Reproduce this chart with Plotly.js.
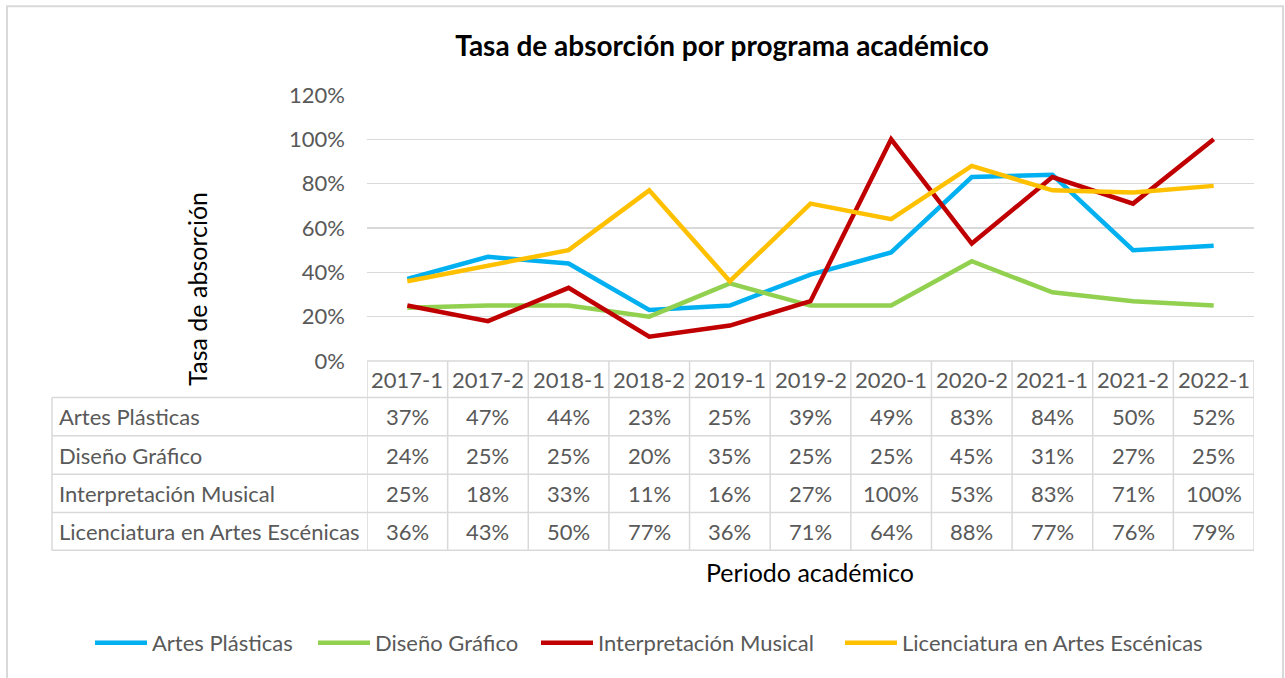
<!DOCTYPE html>
<html>
<head>
<meta charset="utf-8">
<script src="https://cdn.plot.ly/plotly-3.0.1.min.js"></script>
<style>html,body{margin:0;padding:0;background:#fff;}#chart{width:1285px;height:678px;}</style>
</head>
<body>
<div id="chart"></div>
<script>
const periods = ['2017-1','2017-2','2018-1','2018-2','2019-1','2019-2','2020-1','2020-2','2021-1','2021-2','2022-1'];
const seriesNames = ['Artes Plásticas','Diseño Gráfico','Interpretación Musical','Licenciatura en Artes Escénicas'];
const artesPlasticas = [0.37,0.47,0.44,0.23,0.25,0.39,0.49,0.83,0.84,0.50,0.52];
const disenoGrafico = [0.24,0.25,0.25,0.20,0.35,0.25,0.25,0.45,0.31,0.27,0.25];
const interpretacionMusical = [0.25,0.18,0.33,0.11,0.16,0.27,1.00,0.53,0.83,0.71,1.00];
const licenciaturaEscenicas = [0.36,0.43,0.50,0.77,0.36,0.71,0.64,0.88,0.77,0.76,0.79];
const seriesColors = ['#00B0F0','#92D050','#C00000','#FFC000'];

const allSeries = [artesPlasticas, disenoGrafico, interpretacionMusical, licenciaturaEscenicas];
const FONT = 'Lato, "Open Sans", sans-serif';
const TXT = '#595959';
const GRID = '#d9d9d9';

const L = 367, R = 1254, T = 95, B = 361.5;
const W = R - L, H = B - T;
const px = v => (v - L) / W;
const py = v => (B - v) / H;
const legendLeft = [90, 313, 536, 840];

const legendKey = i => i === 0 ? 'legend' : 'legend' + (i + 1);

const traces = allSeries.map((vals, i) => ({
  type: 'scatter', mode: 'lines', name: seriesNames[i],
  x: periods, y: vals,
  line: {color: seriesColors[i], width: 4.5},
  legend: legendKey(i),
  hoverinfo: 'skip'
}));

const rowLines = [398, 436.5, 475, 513.3, 551];
const rowCenters = [417, 455.7, 494, 532];
const tableLeft = 52;

const shapes = [];
const lineStyle = {color: GRID, width: 1.5};
shapes.push({type:'line', xref:'paper', yref:'paper', x0:px(L), x1:px(R), y0:0, y1:0, line:lineStyle});
rowLines.forEach(r => shapes.push({type:'line', xref:'paper', yref:'paper', x0:px(tableLeft), x1:px(R), y0:py(r), y1:py(r), line:lineStyle}));
for (let k = 0; k <= periods.length; k++) {
  shapes.push({type:'line', xref:'x', yref:'paper', x0:k-0.5, x1:k-0.5, y0:0, y1:py(551), line:lineStyle});
}
shapes.push({type:'line', xref:'paper', yref:'paper', x0:px(tableLeft), x1:px(tableLeft), y0:py(398), y1:py(551), line:lineStyle});
shapes.push({type:'rect', xref:'paper', yref:'paper', x0:px(7), x1:px(1283), y0:py(700), y1:py(6), line:{color:GRID, width:2}, fillcolor:'rgba(0,0,0,0)'});

const annotations = [];
periods.forEach((p, k) => {
  annotations.push({xref:'x', yref:'paper', x:k, y:py(380), text:p, showarrow:false, xanchor:'center', yanchor:'middle', font:{family:FONT, size:22, color:TXT}});
});
allSeries.forEach((vals, i) => {
  annotations.push({xref:'paper', yref:'paper', x:px(57), y:py(rowCenters[i]), text:seriesNames[i], showarrow:false, xanchor:'left', yanchor:'middle', font:{family:FONT, size:22, color:TXT}});
  vals.forEach((v, k) => {
    annotations.push({xref:'x', yref:'paper', x:k, y:py(rowCenters[i]), text:Math.round(v*100)+'%', showarrow:false, xanchor:'center', yanchor:'middle', font:{family:FONT, size:22, color:TXT}});
  });
});
annotations.push({xref:'paper', yref:'paper', x:px(197), y:py(289), text:'Tasa de absorción', textangle:-90, showarrow:false, xanchor:'center', yanchor:'middle', font:{family:FONT, size:25, color:'#000'}});
annotations.push({xref:'paper', yref:'paper', x:px(810), y:py(573), text:'Periodo académico', showarrow:false, xanchor:'center', yanchor:'middle', font:{family:FONT, size:25, color:'#000'}});

const layout = {
  width: 1285, height: 678,
  margin: {l: L, r: 1285 - R, t: T, b: 678 - B, pad: 0},
  paper_bgcolor: '#fff', plot_bgcolor: '#fff',
  title: {text: '<b>Tasa de absorción por programa académico</b>', x: 722/1285, xanchor:'center', y: 1 - 46/678, yanchor:'middle', xref:'container', yref:'container', font:{family:FONT, size:28, color:'#000'}},
  xaxis: {type:'category', range:[-0.5, periods.length - 0.5], showticklabels:false, showgrid:false, zeroline:false, showline:false, ticks:''},
  yaxis: {range:[0, 1.2], dtick:0.2, tickformat:'.0%', showgrid:true, gridcolor:GRID, gridwidth:1.5, zeroline:false, showline:false, ticks:'', ticklabelstandoff:21, tickfont:{family:FONT, size:22, color:TXT}},
  showlegend: true,
  shapes: shapes,
  annotations: annotations
};
seriesNames.forEach((n, i) => {
  layout[legendKey(i)] = {orientation:'h', xref:'container', yref:'container', x:legendLeft[i]/1285, xanchor:'left', y:1 - 643/678, yanchor:'middle', itemwidth:52, font:{family:FONT, size:22, color:TXT}, bgcolor:'rgba(0,0,0,0)'};
});

Plotly.newPlot('chart', traces, layout, {displayModeBar:false, staticPlot:true});
</script>
</body>
</html>
